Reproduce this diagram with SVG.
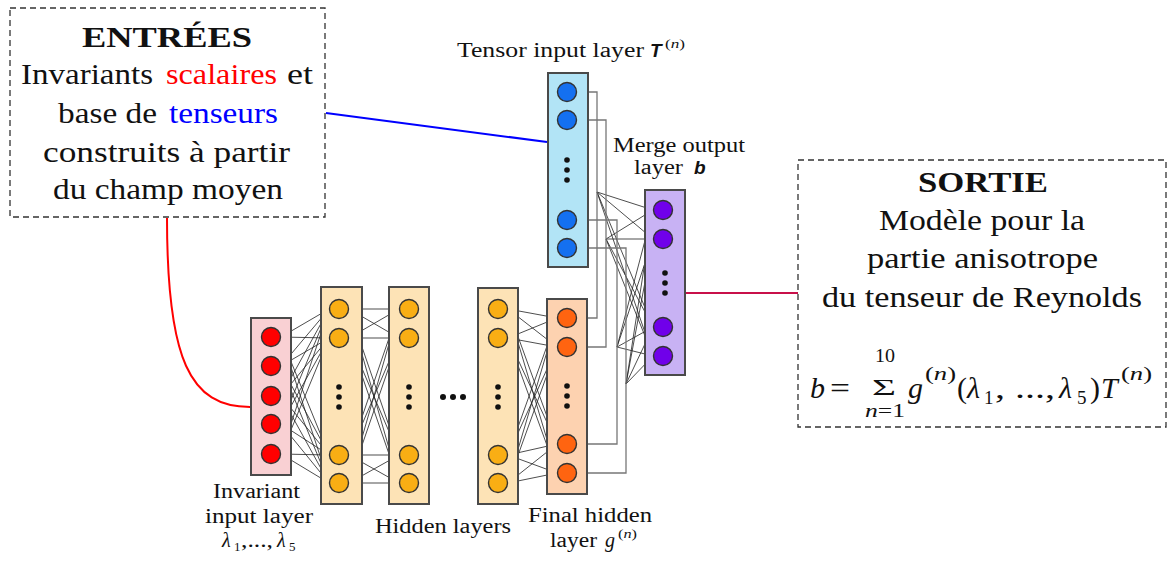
<svg xmlns="http://www.w3.org/2000/svg" width="1171" height="563" viewBox="0 0 1171 563" font-family="'Liberation Serif', 'Times New Roman', Times, serif">
<style>
text{font-family:'Liberation Serif','Times New Roman',Times,serif}
.t{fill:#111}
.big{font-size:29px}
.lab{font-size:20px}
.it{font-style:italic}
.sans{font-family:'Liberation Sans',Arial,sans-serif;font-weight:bold;font-style:italic;font-size:19px}
.bx{stroke:#4a4a4a;stroke-width:2}
.dash{fill:none;stroke:#333;stroke-width:1.3;stroke-dasharray:6 4}
.c{stroke:#333;stroke-width:1.4}
.e{stroke:#222;stroke-opacity:0.8;stroke-width:1;fill:none}
.r{stroke:#777;stroke-width:1.3;fill:none}
.dot{fill:#111}
</style>
<defs>
<marker id="ah" viewBox="0 0 6 6" refX="6" refY="3" markerWidth="6" markerHeight="6" markerUnits="userSpaceOnUse" orient="auto"><path d="M0,0.5 L6,3 L0,5.5z" fill="#111"/></marker>
</defs>
<rect width="1171" height="563" fill="#fff"/>

<g id="connectors">
  <path d="M167,218 C167,360 190,407 250,407" fill="none" stroke="#ff0000" stroke-width="2"/>
  <line x1="326" y1="113" x2="547" y2="142" stroke="#0000ff" stroke-width="2"/>
  <line x1="686" y1="293" x2="798" y2="293" stroke="#c8104a" stroke-width="2"/>
  <g class="e" marker-end="url(#ah)">
    <line x1="281" y1="337" x2="329" y2="309"/><line x1="281" y1="337" x2="329" y2="338"/><line x1="281" y1="337" x2="329" y2="455"/><line x1="281" y1="337" x2="329" y2="483"/>
    <line x1="281" y1="366" x2="329" y2="309"/><line x1="281" y1="366" x2="329" y2="338"/><line x1="281" y1="366" x2="329" y2="455"/><line x1="281" y1="366" x2="329" y2="483"/>
    <line x1="281" y1="396" x2="329" y2="309"/><line x1="281" y1="396" x2="329" y2="338"/><line x1="281" y1="396" x2="329" y2="455"/><line x1="281" y1="396" x2="329" y2="483"/>
    <line x1="281" y1="424" x2="329" y2="309"/><line x1="281" y1="424" x2="329" y2="338"/><line x1="281" y1="424" x2="329" y2="455"/><line x1="281" y1="424" x2="329" y2="483"/>
    <line x1="281" y1="454" x2="329" y2="309"/><line x1="281" y1="454" x2="329" y2="338"/><line x1="281" y1="454" x2="329" y2="455"/><line x1="281" y1="454" x2="329" y2="483"/>

    <line x1="349" y1="309" x2="399" y2="309"/><line x1="349" y1="309" x2="399" y2="338"/><line x1="349" y1="309" x2="399" y2="455"/><line x1="349" y1="309" x2="399" y2="483"/>
    <line x1="349" y1="338" x2="399" y2="309"/><line x1="349" y1="338" x2="399" y2="338"/><line x1="349" y1="338" x2="399" y2="455"/><line x1="349" y1="338" x2="399" y2="483"/>
    <line x1="349" y1="455" x2="399" y2="309"/><line x1="349" y1="455" x2="399" y2="338"/><line x1="349" y1="455" x2="399" y2="455"/><line x1="349" y1="455" x2="399" y2="483"/>
    <line x1="349" y1="483" x2="399" y2="309"/><line x1="349" y1="483" x2="399" y2="338"/><line x1="349" y1="483" x2="399" y2="455"/><line x1="349" y1="483" x2="399" y2="483"/>

    <line x1="508" y1="309" x2="557" y2="318"/><line x1="508" y1="309" x2="557" y2="347"/><line x1="508" y1="309" x2="557" y2="444"/><line x1="508" y1="309" x2="557" y2="473"/>
    <line x1="508" y1="338" x2="557" y2="318"/><line x1="508" y1="338" x2="557" y2="347"/><line x1="508" y1="338" x2="557" y2="444"/><line x1="508" y1="338" x2="557" y2="473"/>
    <line x1="508" y1="455" x2="557" y2="318"/><line x1="508" y1="455" x2="557" y2="347"/><line x1="508" y1="455" x2="557" y2="444"/><line x1="508" y1="455" x2="557" y2="473"/>
    <line x1="508" y1="483" x2="557" y2="318"/><line x1="508" y1="483" x2="557" y2="347"/><line x1="508" y1="483" x2="557" y2="444"/><line x1="508" y1="483" x2="557" y2="473"/>

    <line x1="597" y1="192" x2="653" y2="210"/><line x1="597" y1="192" x2="653" y2="239"/><line x1="597" y1="192" x2="653" y2="327"/><line x1="597" y1="192" x2="653" y2="356"/>
    <line x1="606" y1="239" x2="653" y2="210"/><line x1="606" y1="239" x2="653" y2="239"/><line x1="606" y1="239" x2="653" y2="327"/><line x1="606" y1="239" x2="653" y2="356"/>
    <line x1="617" y1="347" x2="653" y2="210"/><line x1="617" y1="347" x2="653" y2="239"/><line x1="617" y1="347" x2="653" y2="327"/><line x1="617" y1="347" x2="653" y2="356"/>
    <line x1="626" y1="384" x2="653" y2="210"/><line x1="626" y1="384" x2="653" y2="239"/><line x1="626" y1="384" x2="653" y2="327"/><line x1="626" y1="384" x2="653" y2="356"/>
  </g>
  <g class="r">
    <path d="M577,92 H597 V318 H577"/>
    <path d="M577,120 H606 V347 H577"/>
    <path d="M577,220 H617 V444 H577"/>
    <path d="M577,248 H626 V473 H577"/>
  </g>
</g>

<g id="entrees">
  <rect class="dash" x="10" y="8" width="315" height="209"/>
  <text class="t big" x="82" y="47" font-weight="bold" textLength="170" lengthAdjust="spacingAndGlyphs">ENTRÉES</text>
  <text class="t big" x="21" y="84" textLength="132" lengthAdjust="spacingAndGlyphs">Invariants</text>
  <text class="t big" x="166" y="84" style="fill:#ff0000" textLength="111" lengthAdjust="spacingAndGlyphs">scalaires</text>
  <text class="t big" x="287" y="84" textLength="26" lengthAdjust="spacingAndGlyphs">et</text>
  <text class="t big" x="58" y="123" textLength="99" lengthAdjust="spacingAndGlyphs">base de</text>
  <text class="t big" x="169" y="123" style="fill:#0000ff" textLength="109" lengthAdjust="spacingAndGlyphs">tenseurs</text>
  <text class="t big" x="43" y="162" textLength="247" lengthAdjust="spacingAndGlyphs">construits à partir</text>
  <text class="t big" x="53" y="199" textLength="230" lengthAdjust="spacingAndGlyphs">du champ moyen</text>
</g>

<g id="sortie">
  <rect class="dash" x="798" y="160" width="368" height="267"/>
  <text class="t big" x="918" y="192" font-weight="bold" textLength="130" lengthAdjust="spacingAndGlyphs">SORTIE</text>
  <text class="t big" x="879" y="230" textLength="206" lengthAdjust="spacingAndGlyphs">Modèle pour la</text>
  <text class="t big" x="867" y="268" textLength="231" lengthAdjust="spacingAndGlyphs">partie anisotrope</text>
  <text class="t big" x="822" y="307" textLength="320" lengthAdjust="spacingAndGlyphs">du tenseur de Reynolds</text>
  <g class="t" font-size="30">
    <text class="t it" x="810" y="398" font-size="30">b</text>
    <text class="t" x="830" y="398" font-size="30" textLength="20" lengthAdjust="spacingAndGlyphs">=</text>
    <text class="t" x="872" y="395" font-size="24" textLength="24" lengthAdjust="spacingAndGlyphs">Σ</text>
    <text class="t" x="875" y="362" font-size="18" textLength="20" lengthAdjust="spacingAndGlyphs">10</text>
    <text class="t" x="865" y="417" font-size="18" textLength="40" lengthAdjust="spacingAndGlyphs"><tspan class="it">n</tspan>=1</text>
    <text class="t it" x="908" y="398" font-size="30">g</text>
    <text class="t" x="925" y="380" font-size="18" textLength="31" lengthAdjust="spacingAndGlyphs">(<tspan class="it">n</tspan>)</text>
    <text class="t" x="957" y="398" font-size="30">(</text>
    <text class="t it" x="967" y="398" font-size="30">λ</text>
    <text class="t" x="984" y="404" font-size="19">1</text>
    <text class="t" x="995" y="398" font-size="30" textLength="60" lengthAdjust="spacingAndGlyphs">, ..., </text>
    <text class="t it" x="1059" y="398" font-size="30">λ</text>
    <text class="t" x="1077" y="404" font-size="19">5</text>
    <text class="t" x="1090" y="398" font-size="30">)</text>
    <text class="t it" x="1101" y="398" font-size="30">T</text>
    <text class="t" x="1121" y="380" font-size="18" textLength="31" lengthAdjust="spacingAndGlyphs">(<tspan class="it">n</tspan>)</text>
  </g>
</g>

<g id="invariant-input-layer">
  <rect class="bx" x="251" y="318" width="40" height="157" fill="#f9d0d3"/>
  <g class="c" fill="#ff0000">
    <circle cx="271" cy="337" r="9.5"/><circle cx="271" cy="366" r="9.5"/><circle cx="271" cy="396" r="9.5"/><circle cx="271" cy="424" r="9.5"/><circle cx="271" cy="454" r="9.5"/>
  </g>
  <text class="t lab" x="213" y="498" textLength="87" lengthAdjust="spacingAndGlyphs">Invariant</text>
  <text class="t lab" x="205" y="523" textLength="108" lengthAdjust="spacingAndGlyphs">input  layer</text>
  <text class="t lab it" x="222" y="547" font-size="21">λ</text>
  <text class="t" x="234" y="551" font-size="13">1</text>
  <text class="t lab" x="241" y="547" textLength="32" lengthAdjust="spacingAndGlyphs">,...,</text>
  <text class="t lab it" x="277" y="547" font-size="21">λ</text>
  <text class="t" x="289" y="551" font-size="13">5</text>
</g>

<g id="hidden-layer-1">
  <rect class="bx" x="321" y="287" width="41" height="217" fill="#fde3b6"/>
  <g class="c" fill="#f9ae14">
    <circle cx="339" cy="309" r="9.5"/><circle cx="339" cy="338" r="9.5"/><circle cx="339" cy="455" r="9.5"/><circle cx="339" cy="483" r="9.5"/>
  </g>
  <circle class="dot" cx="339" cy="387" r="2.8"/><circle class="dot" cx="339" cy="397" r="2.8"/><circle class="dot" cx="339" cy="407" r="2.8"/>
</g>

<g id="hidden-layer-2">
  <rect class="bx" x="389" y="287" width="40" height="217" fill="#fde3b6"/>
  <g class="c" fill="#f9ae14">
    <circle cx="409" cy="309" r="9.5"/><circle cx="409" cy="338" r="9.5"/><circle cx="409" cy="455" r="9.5"/><circle cx="409" cy="483" r="9.5"/>
  </g>
  <circle class="dot" cx="409" cy="387" r="2.8"/><circle class="dot" cx="409" cy="397" r="2.8"/><circle class="dot" cx="409" cy="407" r="2.8"/>
</g>

<g id="ellipsis">
  <circle class="dot" cx="443" cy="397" r="3"/><circle class="dot" cx="453" cy="397" r="3"/><circle class="dot" cx="463" cy="397" r="3"/>
  <text class="t lab" x="375" y="533" textLength="136" lengthAdjust="spacingAndGlyphs">Hidden layers</text>
</g>

<g id="hidden-layer-3">
  <rect class="bx" x="478" y="288" width="40" height="216" fill="#fde3b6"/>
  <g class="c" fill="#f9ae14">
    <circle cx="498" cy="309" r="9.5"/><circle cx="498" cy="338" r="9.5"/><circle cx="498" cy="455" r="9.5"/><circle cx="498" cy="483" r="9.5"/>
  </g>
  <circle class="dot" cx="498" cy="387" r="2.8"/><circle class="dot" cx="498" cy="397" r="2.8"/><circle class="dot" cx="498" cy="407" r="2.8"/>
</g>

<g id="final-hidden-layer">
  <rect class="bx" x="547" y="299" width="40" height="195" fill="#fdd2b0"/>
  <g class="c" fill="#ff6410">
    <circle cx="567" cy="318" r="9.5"/><circle cx="567" cy="347" r="9.5"/><circle cx="567" cy="444" r="9.5"/><circle cx="567" cy="473" r="9.5"/>
  </g>
  <circle class="dot" cx="567" cy="386" r="2.8"/><circle class="dot" cx="567" cy="396" r="2.8"/><circle class="dot" cx="567" cy="406" r="2.8"/>
  <text class="t lab" x="528" y="522" textLength="124" lengthAdjust="spacingAndGlyphs">Final hidden</text>
  <text class="t lab" x="550" y="547" textLength="47" lengthAdjust="spacingAndGlyphs">layer</text>
  <text class="t lab it" x="605" y="547">g</text>
  <text class="t" x="618" y="538" font-size="13" textLength="19" lengthAdjust="spacingAndGlyphs">(<tspan class="it">n</tspan>)</text>
</g>

<g id="tensor-input-layer">
  <rect class="bx" x="548" y="73" width="40" height="194" fill="#b2e4f6"/>
  <g class="c" fill="#1470f0">
    <circle cx="567" cy="92" r="9.5"/><circle cx="567" cy="120" r="9.5"/><circle cx="567" cy="220" r="9.5"/><circle cx="567" cy="248" r="9.5"/>
  </g>
  <circle class="dot" cx="567" cy="160" r="2.8"/><circle class="dot" cx="567" cy="170" r="2.8"/><circle class="dot" cx="567" cy="180" r="2.8"/>
  <text class="t lab" x="457" y="57" textLength="187" lengthAdjust="spacingAndGlyphs">Tensor input  layer</text>
  <text class="sans" x="650" y="57" fill="#111">T</text>
  <text class="t" x="665" y="48" font-size="12" textLength="20" lengthAdjust="spacingAndGlyphs">(<tspan class="it">n</tspan>)</text>
</g>

<g id="merge-output-layer">
  <rect class="bx" x="645" y="190" width="40" height="185" fill="#c8b2f4"/>
  <g class="c" fill="#7000ea">
    <circle cx="663" cy="210" r="9.5"/><circle cx="663" cy="239" r="9.5"/><circle cx="663" cy="327" r="9.5"/><circle cx="663" cy="356" r="9.5"/>
  </g>
  <circle class="dot" cx="665" cy="273" r="2.8"/><circle class="dot" cx="665" cy="283" r="2.8"/><circle class="dot" cx="665" cy="293" r="2.8"/>
  <text class="t lab" x="613" y="152" textLength="132" lengthAdjust="spacingAndGlyphs">Merge output</text>
  <text class="t lab" x="634" y="174" textLength="49" lengthAdjust="spacingAndGlyphs">layer</text>
  <text class="sans" x="694" y="174" fill="#111">b</text>
</g>
</svg>
